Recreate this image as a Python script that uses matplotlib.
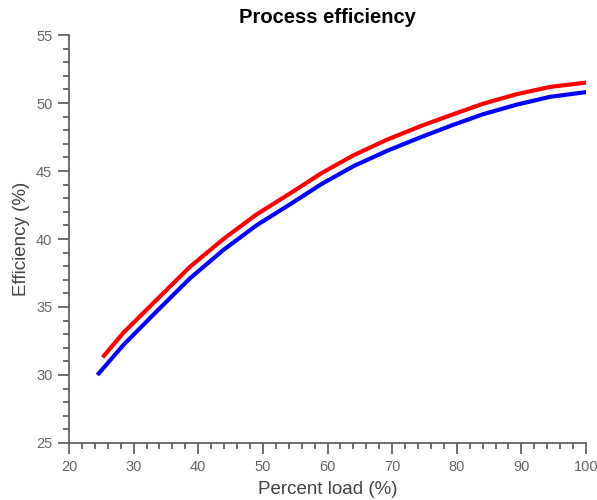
import matplotlib
matplotlib.use('Agg')
import matplotlib.pyplot as plt
from matplotlib.ticker import MultipleLocator

plt.rcParams['font.family'] = ['Liberation Sans', 'DejaVu Sans']

# ========== 数据 ==========
red_load = [25.2, 28.4, 33.6, 38.7, 43.9, 49.0, 54.2, 59.1, 64.0, 69.2, 74.3, 79.2, 84.1, 89.3, 94.4, 100]
red_eff = [31.3, 33.1, 35.55, 37.95, 40.0, 41.8, 43.35, 44.85, 46.15, 47.3, 48.28, 49.13, 49.95, 50.65, 51.18, 51.5]

blue_load = [24.4, 28.4, 33.6, 38.7, 43.9, 49.0, 54.2, 59.1, 64.0, 69.2, 74.3, 79.2, 84.1, 89.3, 94.4, 100]
blue_eff = [30.0, 32.2, 34.7, 37.1, 39.2, 41.0, 42.55, 44.05, 45.35, 46.48, 47.46, 48.35, 49.18, 49.88, 50.45, 50.8]

# ========== 画图 ==========
fig = plt.figure(figsize=(5.97, 5.0), dpi=100)
ax = fig.add_axes([0.1156, 0.114, 0.866, 0.816])

ax.plot(blue_load, blue_eff, color='#0000ff', lw=3.0, solid_capstyle='butt', solid_joinstyle='round')
ax.plot(red_load, red_eff, color='#ff0000', lw=3.0, solid_capstyle='butt', solid_joinstyle='round')

ax.set_xlim(20, 100)
ax.set_ylim(25, 55)
ax.xaxis.set_major_locator(MultipleLocator(10))
ax.xaxis.set_minor_locator(MultipleLocator(2))
ax.yaxis.set_major_locator(MultipleLocator(5))
ax.yaxis.set_minor_locator(MultipleLocator(1))

for s in ['top', 'right']:
    ax.spines[s].set_visible(False)
for s in ['left', 'bottom']:
    ax.spines[s].set_color('#555555')
    ax.spines[s].set_linewidth(1.2)

ax.tick_params(which='major', direction='out', length=8, width=1.2,
               color='#555555', labelcolor='#666666', labelsize=10.5, pad=4)
ax.tick_params(which='minor', direction='out', length=4.5, width=1.2,
               color='#555555')

ax.set_xlabel('Percent load (%)', fontsize=13.5, color='#444444', labelpad=5)
ax.set_ylabel('Efficiency (%)', fontsize=13.5, color='#444444', labelpad=4)
ax.set_title('Process efficiency', fontsize=14.5, fontweight='bold', pad=9)

plt.savefig('out.png', dpi=100)
